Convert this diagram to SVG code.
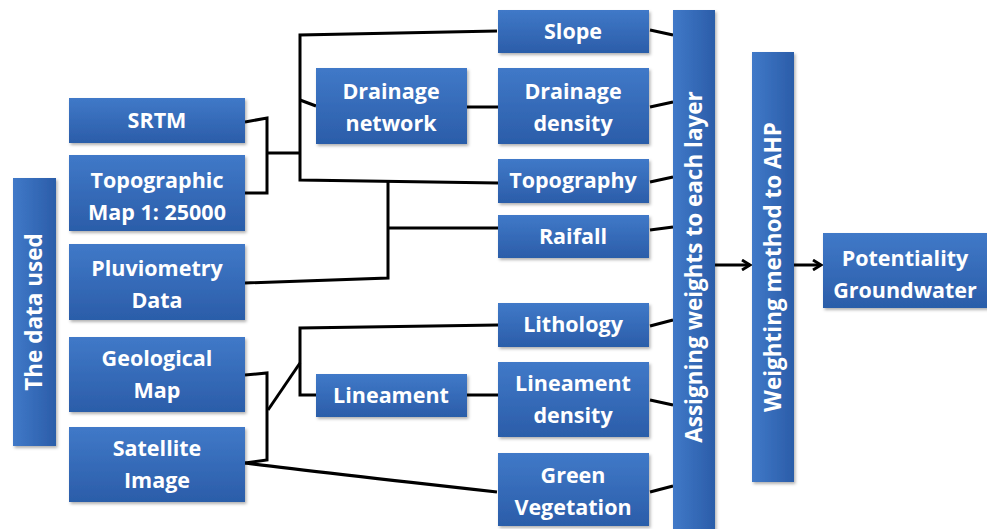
<svg xmlns="http://www.w3.org/2000/svg" width="987" height="529" viewBox="0 0 987 529">
<defs>
<linearGradient id="g" x1="0" y1="0" x2="0" y2="1">
<stop offset="0" stop-color="#4079c8"/>
<stop offset="1" stop-color="#2b5da9"/>
</linearGradient>
<linearGradient id="gv" x1="0" y1="0" x2="1" y2="0">
<stop offset="0" stop-color="#4079c8"/>
<stop offset="1" stop-color="#2b5da9"/>
</linearGradient>
<filter id="sh" x="-10%" y="-10%" width="130%" height="130%">
<feDropShadow dx="1.5" dy="2" stdDeviation="1.5" flood-color="#000" flood-opacity="0.3"/>
</filter>
<marker id="ah" viewBox="0 0 12 12" refX="10" refY="6" markerWidth="12" markerHeight="12" markerUnits="userSpaceOnUse" orient="auto">
<path d="M2,1 L10,6 L2,11" fill="none" stroke="#000" stroke-width="2.8"/>
</marker>
</defs>
<style>
rect.n{fill:url(#g);filter:url(#sh)}
rect.v{fill:url(#gv);filter:url(#sh)}
text{font-family:"Open Sans","Liberation Sans",sans-serif;font-weight:bold;font-size:21.5px;fill:#fff;text-anchor:middle}
text.vt{font-size:22.5px}
.c path,.c line{stroke:#000;stroke-width:3;fill:none;stroke-linejoin:miter}
</style>
<rect width="987" height="529" fill="#fff"/>

<g class="c" id="connectors">
<path d="M245,122 L267,118 L267,193 L245,193"/>
<path d="M267,153 L300,153"/>
<path d="M497,31 L300,35 L300,180 L498,183"/>
<path d="M300,100 L316,106"/>
<path d="M467,107 L498,107"/>
<path d="M388,181 L388,278 L245,283"/>
<path d="M388,228 L498,228"/>
<path d="M245,375 L267,373 L267,460 L245,463"/>
<path d="M268,410 L300,363"/>
<path d="M498,325 L300,328 L300,395 L316,395"/>
<path d="M467,395 L498,395"/>
<path d="M245,463 Q300,470 497,492"/>
<path d="M650,30 L673,35"/>
<path d="M650,107 L673,102"/>
<path d="M650,182 L673,177"/>
<path d="M650,230 L673,227"/>
<path d="M650,326 L673,320"/>
<path d="M650,400 L673,405"/>
<path d="M650,492 L673,486"/>
<line x1="715" y1="265" x2="750" y2="265" marker-end="url(#ah)"/>
<line x1="794" y1="265" x2="821" y2="265" marker-end="url(#ah)"/>
</g>

<g id="data-used"><rect class="v" x="13" y="178" width="43" height="268"/><text class="vt" transform="translate(42,312) rotate(-90)">The data used</text></g>
<g id="srtm"><rect class="n" x="69" y="98" width="176" height="45"/><text x="157" y="128">SRTM</text></g>
<g id="topographic"><rect class="n" x="69" y="155" width="176" height="76"/><text x="157" y="188">Topographic</text><text x="157" y="220">Map 1: 25000</text></g>
<g id="pluviometry"><rect class="n" x="69" y="244" width="176" height="76"/><text x="157" y="276">Pluviometry</text><text x="157" y="308">Data</text></g>
<g id="geological"><rect class="n" x="69" y="337" width="176" height="75"/><text x="157" y="366">Geological</text><text x="157" y="398">Map</text></g>
<g id="satellite"><rect class="n" x="69" y="427" width="176" height="75"/><text x="157" y="456">Satellite</text><text x="157" y="488">Image</text></g>

<g id="drainage-network"><rect class="n" x="316" y="68" width="151" height="76"/><text x="391" y="99">Drainage</text><text x="391" y="131">network</text></g>
<g id="lineament"><rect class="n" x="316" y="374" width="151" height="43"/><text x="391" y="403">Lineament</text></g>

<g id="slope"><rect class="n" x="498" y="10" width="151" height="43"/><text x="573" y="39">Slope</text></g>
<g id="drainage-density"><rect class="n" x="498" y="68" width="151" height="76"/><text x="573" y="99">Drainage</text><text x="573" y="131">density</text></g>
<g id="topography"><rect class="n" x="498" y="159" width="151" height="44"/><text x="573" y="188">Topography</text></g>
<g id="raifall"><rect class="n" x="498" y="215" width="151" height="43"/><text x="573" y="244">Raifall</text></g>
<g id="lithology"><rect class="n" x="498" y="303" width="151" height="44"/><text x="573" y="332">Lithology</text></g>
<g id="lineament-density"><rect class="n" x="498" y="362" width="151" height="75"/><text x="573" y="391">Lineament</text><text x="573" y="423">density</text></g>
<g id="green-vegetation"><rect class="n" x="498" y="453" width="151" height="73"/><text x="573" y="483">Green</text><text x="573" y="515">Vegetation</text></g>

<g id="assigning"><rect class="v" x="673" y="10" width="42" height="525"/><text class="vt" transform="translate(702,267) rotate(-90)">Assigning weights to each layer</text></g>
<g id="weighting"><rect class="v" x="752" y="52" width="42" height="430"/><text class="vt" transform="translate(781,267) rotate(-90)">Weighting method to AHP</text></g>
<g id="potentiality"><rect class="n" x="823" y="233" width="170" height="75"/><text x="905" y="266">Potentiality</text><text x="905" y="298">Groundwater</text></g>
</svg>
